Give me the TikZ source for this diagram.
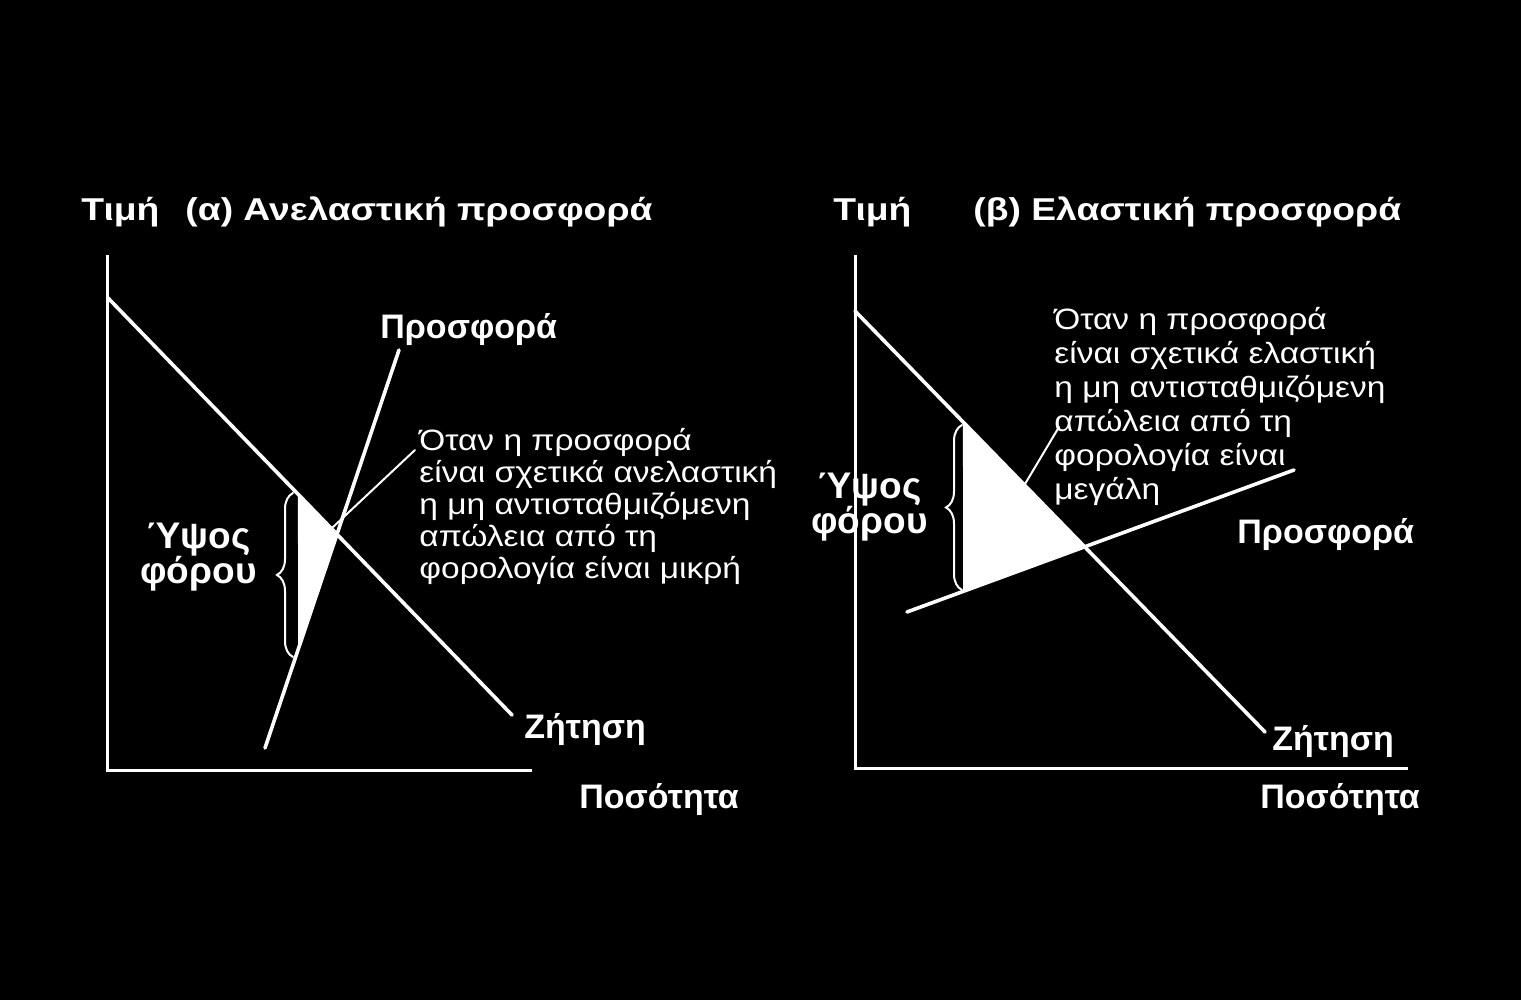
\documentclass[tikz,border=0pt]{standalone}
\usepackage{fontspec}
\setmainfont{Liberation Sans}
\newfontfamily\notefont[FakeStretch=1.14]{Liberation Sans}
\newfontfamily\titlefont[FakeStretch=1.18]{Liberation Sans}
\usetikzlibrary{decorations.pathreplacing}
\definecolor{FigureWhite}{HTML}{FFFFFF}

\begin{document}
\begin{tikzpicture}[x=0.5pt,y=-0.5pt,line cap=round,
  axisline/.style={FigureWhite,line width=1.5pt,line cap=butt},
  curveline/.style={FigureWhite,line width=1.8pt},
  leaderline/.style={FigureWhite,line width=1pt},
  taxbrace/.style={FigureWhite,line width=1pt,decorate,decoration={brace,amplitude=8pt}},
  lbl/.style={text=FigureWhite,font=\fontsize{17}{20}\selectfont\bfseries,inner sep=0pt},
  titlelbl/.style={lbl,font=\titlefont\fontsize{15.8}{19}\selectfont\bfseries},
  taxlbl/.style={lbl,font=\fontsize{18.5}{17.5}\selectfont\bfseries,align=center},
  note/.style={text=FigureWhite,font=\notefont\fontsize{14.7}{16}\selectfont,align=left,inner sep=0pt}]
  \fill[black] (0,0) rectangle (1521,1000);
  % (a) inelastic supply
  \coordinate (oA) at (107,770); \coordinate (yA) at (107,255); \coordinate (xA) at (532,770);
  \coordinate (dA1) at (108,298); \coordinate (dA2) at (512,715);
  \coordinate (sA1) at (265,748); \coordinate (sA2) at (399,350);
  \coordinate (vA1) at (298,0); \coordinate (vA2) at (298,1000);
  \fill[FigureWhite] (intersection of dA1--dA2 and vA1--vA2) -- (intersection of dA1--dA2 and sA1--sA2) -- (intersection of sA1--sA2 and vA1--vA2) -- cycle;
  \draw[axisline] (yA) -- (oA) -- (xA);
  \draw[curveline] (dA1) -- (dA2); \draw[curveline] (sA1) -- (sA2);
  \coordinate (bA1) at (293,657); \coordinate (bA2) at (293,493);
  \draw[taxbrace] (bA1) -- (bA2);
  \coordinate (lA1) at (332,528); \coordinate (lA2) at (415,450);
  \draw[leaderline] (lA1) -- (lA2);
  \node[titlelbl,anchor=base west] (priceA) at (81,221) {Τιμή};
  \node[titlelbl,anchor=base west] (titleA) at (185,221) {(α) Ανελαστική προσφορά};
  \node[lbl,anchor=base west] (supplyA) at (380,339) {Προσφορά};
  \node[lbl,anchor=base west] (demandA) at (524,738) {Ζήτηση};
  \node[lbl,anchor=base west] (qtyA) at (579,808) {Ποσότητα};
  \node[taxlbl,anchor=north east] (taxA) at (257,523) {Ύψος\\φόρου};
  \node[note,anchor=north west] (noteA) at (419,428) {Όταν η προσφορά\\είναι σχετικά ανελαστική\\η μη αντισταθμιζόμενη\\απώλεια από τη\\φορολογία είναι μικρή};
  % (b) elastic supply
  \coordinate (oB) at (855,768); \coordinate (yB) at (855,255); \coordinate (xB) at (1408,768);
  \coordinate (dB1) at (855,311); \coordinate (dB2) at (1265,732);
  \coordinate (sB1) at (907,612); \coordinate (sB2) at (1294,470);
  \coordinate (vB1) at (963,0); \coordinate (vB2) at (963,1000);
  \fill[FigureWhite] (intersection of dB1--dB2 and vB1--vB2) -- (intersection of dB1--dB2 and sB1--sB2) -- (intersection of sB1--sB2 and vB1--vB2) -- cycle;
  \draw[axisline] (yB) -- (oB) -- (xB);
  \draw[curveline] (dB1) -- (dB2); \draw[curveline] (sB1) -- (sB2);
  \coordinate (bB1) at (962,590); \coordinate (bB2) at (962,425);
  \draw[taxbrace] (bB1) -- (bB2);
  \coordinate (lB1) at (1025,484); \coordinate (lB2) at (1059,427);
  \draw[leaderline] (lB1) -- (lB2);
  \node[titlelbl,anchor=base west] (priceB) at (833,221) {Τιμή};
  \node[titlelbl,anchor=base west] (titleB) at (973,221) {(β) Ελαστική προσφορά};
  \node[note,anchor=north west,font=\notefont\fontsize{14.7}{17}\selectfont] (noteB) at (1054,307) {Όταν η προσφορά\\είναι σχετικά ελαστική\\η μη αντισταθμιζόμενη\\απώλεια από τη\\φορολογία είναι\\μεγάλη};
  \node[lbl,anchor=base west] (supplyB) at (1237,543) {Προσφορά};
  \node[lbl,anchor=base west] (demandB) at (1272,750) {Ζήτηση};
  \node[lbl,anchor=base west] (qtyB) at (1260,808) {Ποσότητα};
  \node[taxlbl,anchor=north east] (taxB) at (928,473) {Ύψος\\φόρου};
\end{tikzpicture}
\end{document}
